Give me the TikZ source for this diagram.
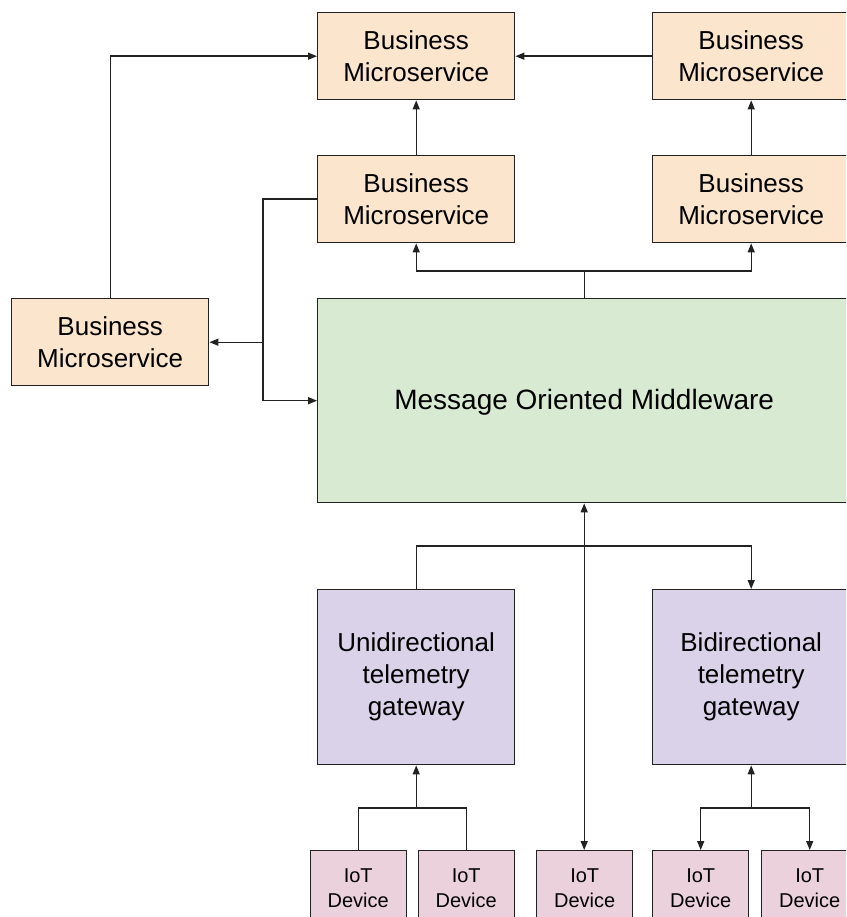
\documentclass[tikz,border=0pt]{standalone}
\usepackage{fontspec}
\setmainfont{Liberation Sans}
\usetikzlibrary{arrows.meta}
\definecolor{bmfill}{HTML}{FCE5CD}
\definecolor{momfill}{HTML}{D9EAD3}
\definecolor{gwfill}{HTML}{D9D2E9}
\definecolor{iotfill}{HTML}{EAD1DC}
\definecolor{edge}{HTML}{222222}
\tikzset{
  box/.style={draw=edge, line width=1.4pt, anchor=north west, inner sep=0pt, align=center, text=black},
  bmbox/.style={box, fill=bmfill, minimum width=197pt, minimum height=87pt, font=\fontsize{26}{31.5}\selectfont},
  mombox/.style={box, fill=momfill, minimum width=533pt, minimum height=204pt, font=\fontsize{28}{33}\selectfont},
  gwbox/.style={box, fill=gwfill, minimum width=197pt, minimum height=175pt, font=\fontsize{26}{32}\selectfont},
  iotbox/.style={box, fill=iotfill, minimum width=96pt, minimum height=75pt, font=\fontsize{20}{25}\selectfont},
  conn/.style={draw=edge, line width=1.4pt},
  arr/.style={conn, -{Triangle[length=9pt,width=7pt]}},
  arrb/.style={conn, {Triangle[length=9pt,width=7pt]}-{Triangle[length=9pt,width=7pt]}}
}
\begin{document}
\begin{tikzpicture}[x=1pt,y=-1pt]
\clip (0,0) rectangle (846,917);
\fill[white] (0,0) rectangle (846,917);
% Business microservices
\node[bmbox] (bm1) at (317,12) {Business\\Microservice};
\node[bmbox] (bm2) at (652,12) {Business\\Microservice};
\node[bmbox] (bm3) at (317,155) {Business\\Microservice};
\node[bmbox] (bm4) at (652,155) {Business\\Microservice};
\node[bmbox] (lbm) at (11,298) {Business\\Microservice};
% Middleware
\node[mombox, text depth=2pt] (mom) at (317,298) {Message Oriented Middleware};
% Gateways
\node[gwbox] (ugw) at (317,589) {Unidirectional\\telemetry\\gateway};
\node[gwbox] (bgw) at (652,589) {Bidirectional\\telemetry\\gateway};
% IoT devices
\node[iotbox] (iot1) at (309.5,850) {IoT\\Device};
\node[iotbox] (iot2) at (417.5,850) {IoT\\Device};
\node[iotbox] (iot3) at (536,850) {IoT\\Device};
\node[iotbox] (iot4) at (652,850) {IoT\\Device};
\node[iotbox] (iot5) at (761,850) {IoT\\Device};
% junction coordinates
\coordinate (jx) at (lbm.east -| 263,0);
\coordinate (jb1) at (ugw.south |- 0,808);
\coordinate (jb2) at (bgw.south |- 0,808);
% connectors top
\draw[arr] (lbm.north) |- (bm1.west);
\draw[arr] (bm2.west) -- (bm1.east);
\draw[arr] (bm3.north) -- (bm1.south);
\draw[arr] (bm4.north) -- (bm2.south);
\draw[conn] (mom.north) -- ++(0,-27) coordinate (jtop);
\draw[arr] (jtop) -| (bm3.south);
\draw[arr] (jtop) -| (bm4.south);
\draw[conn] (bm3.west) -| (jx);
\draw[arr] (jx) -- (lbm.east);
\draw[arr] (jx) |- (mom.west);
% gateways
\draw[arr] (ugw.north) -- ++(0,-43) -| (bgw.north);
\draw[arrb] (mom.south) -- (mom.south |- iot3.north);
% devices
\draw[conn] (iot1.north) |- (jb1) -| (iot2.north);
\draw[arr] (jb1) -- (ugw.south);
\draw[arr] (jb2) -- (bgw.south);
\draw[arr] (jb2) -| (iot4.north);
\draw[arr] (jb2) -| (iot5.north);
\end{tikzpicture}
\end{document}
